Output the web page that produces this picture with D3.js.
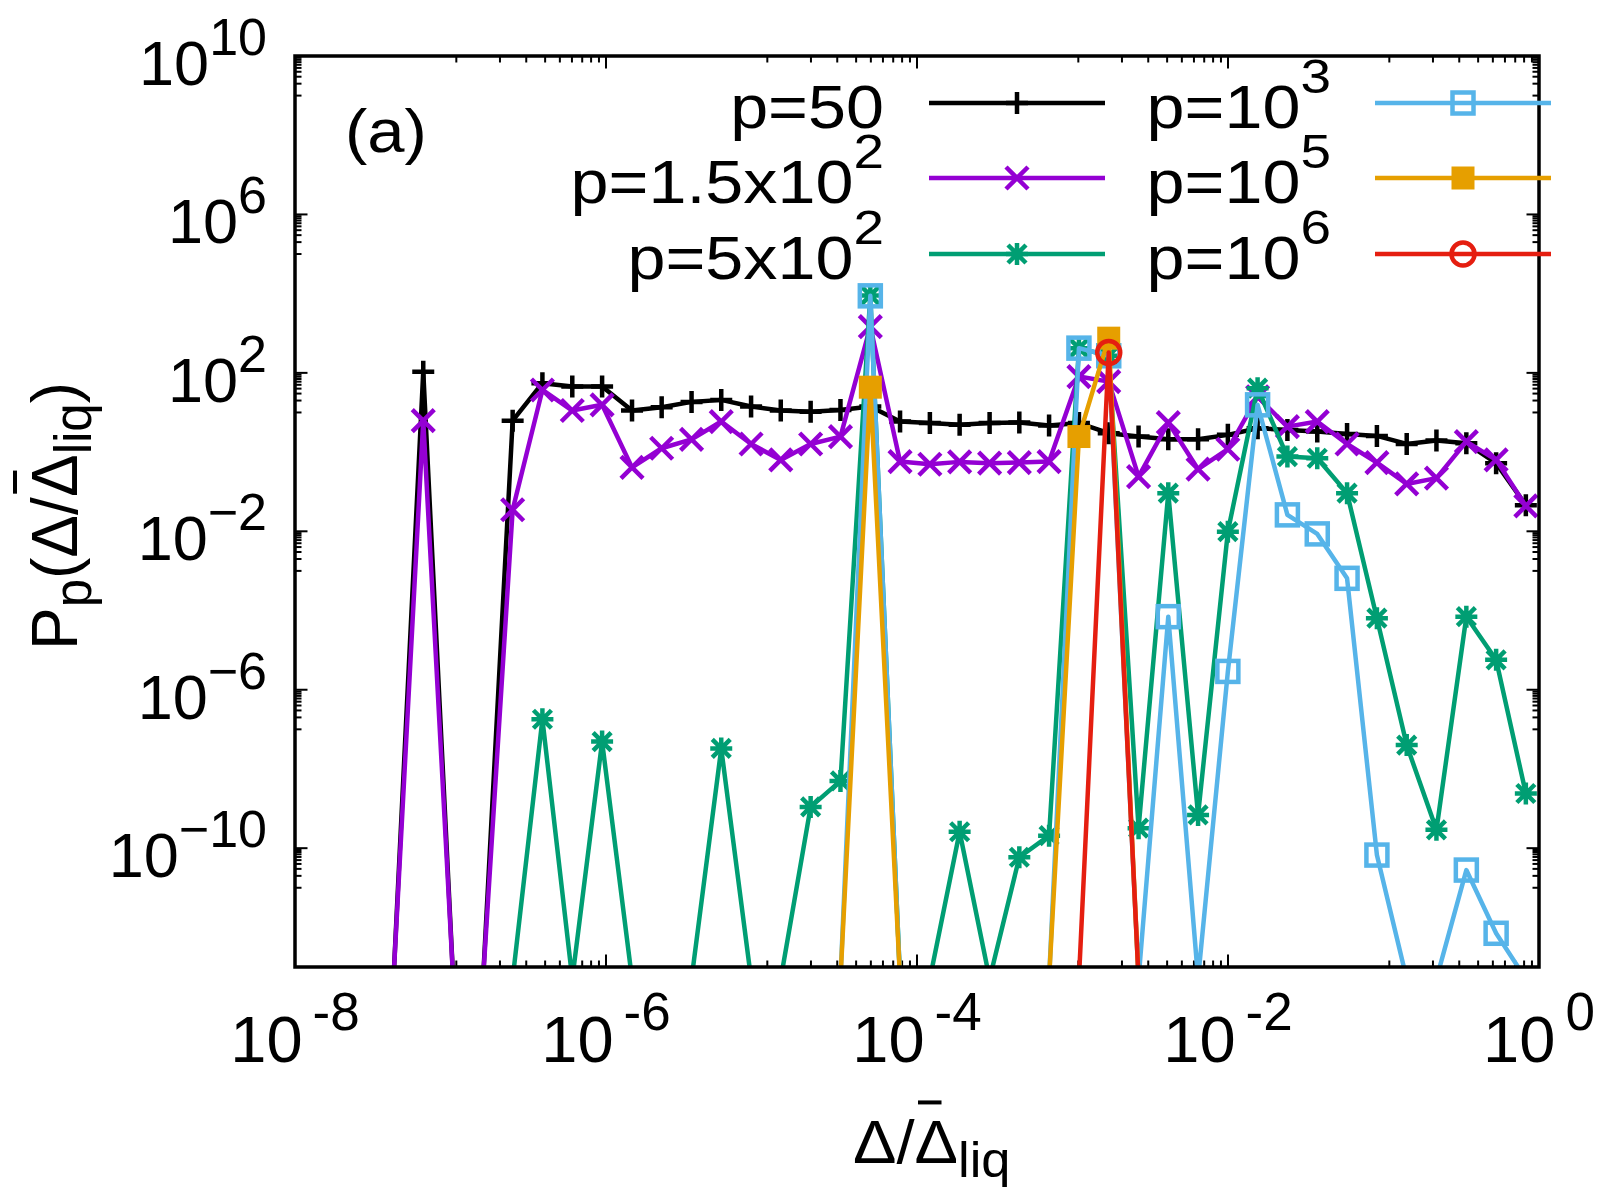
<!DOCTYPE html>
<html>
<head>
<meta charset="utf-8">
<script src="https://cdn.jsdelivr.net/npm/d3@7"></script>
<style>
  body { margin: 0; background: #fff; }
  svg { display: block; background: #fff; }
  text { font-family: "Liberation Sans", Arial, Helvetica, sans-serif; fill: #000; }
</style>
</head>
<body>
<svg id="chart"></svg>
<script>
// bin centres of Δ/Δliq, log spaced
const bins = [4.30e-8, 6.68e-8, 1.04e-7, 1.62e-7, 2.51e-7, 3.90e-7, 6.07e-7, 9.44e-7,
  1.47e-6, 2.28e-6, 3.55e-6, 5.51e-6, 8.57e-6, 1.33e-5, 2.07e-5, 3.22e-5, 5.01e-5,
  7.78e-5, 1.21e-4, 1.88e-4, 2.93e-4, 4.55e-4, 7.07e-4, 1.10e-3, 1.71e-3, 2.66e-3,
  4.13e-3, 6.42e-3, 9.98e-3, 1.55e-2, 2.41e-2, 3.75e-2, 5.83e-2, 9.07e-2, 0.141,
  0.219, 0.341, 0.530, 0.823];

// empty bins sit just below the y range
const E = 5e-14;

const pp50 = [E, 107, E, E, 6.2, 55, 45, 45, 11.2, 13.6, 18.5, 20.8, 14.1, 11.2, 10.5,
  11.6, 14.1, 5.9, 5.4, 4.9, 5.4, 5.6, 4.7, 5.4, 3.0, 2.46, 2.12, 2.12, 2.72, 4.0, 3.6,
  3.3, 2.88, 2.56, 1.61, 1.95, 1.68, 0.525, 0.0456];
const pp150 = [E, 6.2, E, E, 0.035, 37, 11.2, 15.6, 0.41, 1.25, 2.1, 5.9, 1.6, 0.635,
  1.6, 2.46, 1476, 0.575, 0.494, 0.566, 0.525, 0.543, 0.575, 80.7, 60, 0.24, 5.56, 0.37,
  1.18, 25, 4.4, 5.9, 1.6, 0.543, 0.157, 0.22, 1.84, 0.635, 0.0438];
const pp500 = [E, E, E, E, E, 1.8e-7, E, 4.9e-8, E, E, E, 3.3e-8, E, E, 1.1e-9, 5.0e-9,
  9000, E, E, 2.6e-10, E, 5.9e-11, 2.07e-10, 420, 270, 3.2e-10, 0.092, 6.9e-10, 9.8e-3,
  41, 0.77, 0.70, 0.092, 6.4e-5, 4.0e-8, 2.9e-10, 7.0e-5, 5.7e-6, 2.4e-9];
const pp1e3 = [E, E, E, E, E, E, E, E, E, E, E, E, E, E, E, E, 8800, E, E, E, E, E, E,
  421, 270, E, 7.0e-5, E, 2.9e-6, 15.6, 0.026, 8.6e-3, 6.5e-4, 6.7e-11, E, E, 2.8e-11,
  7.1e-13, E];
const pp1e5 = [E, E, E, E, E, E, E, E, E, E, E, E, E, E, E, E, 43.5, E, E, E, E, E, E,
  2.47, 752, E, E, E, E, E, E, E, E, E, E, E, E, E, E];
const pp1e6 = [E, E, E, E, E, E, E, E, E, E, E, E, E, E, E, E, E, E, E, E, E, E, E,
  E, 326, E, E, E, E, E, E, E, E, E, E, E, E, E, E];

const xTicks = [1e-8, 1e-6, 1e-4, 1e-2, 1];
const xTickLabels = [["10", "-8"], ["10", "-6"], ["10", "-4"], ["10", "-2"], ["10", "0"]];
const yTicks = [1e10, 1e6, 1e2, 1e-2, 1e-6, 1e-10];
const yTickLabels = [["10", "10"], ["10", "6"], ["10", "2"], ["10", "\u22122"], ["10", "\u22126"], ["10", "\u221210"]];

const series = [
  { name: ["p=50", ""], values: pp50, color: "#000000", marker: "plus" },
  { name: ["p=1.5x10", "2"], values: pp150, color: "#9400d3", marker: "cross" },
  { name: ["p=5x10", "2"], values: pp500, color: "#009e73", marker: "star" },
  { name: ["p=10", "3"], values: pp1e3, color: "#56b4e9", marker: "box" },
  { name: ["p=10", "5"], values: pp1e5, color: "#e69f00", marker: "boxfill" },
  { name: ["p=10", "6"], values: pp1e6, color: "#e51e10", marker: "circle" }
];

const W = 1600, H = 1195;
const margin = { top: 56, right: 61, bottom: 228, left: 295 };
const width = W - margin.left - margin.right;
const height = H - margin.top - margin.bottom;

const svg = d3.select("#chart").attr("width", W).attr("height", H);
const g = svg.append("g").attr("transform", `translate(${margin.left},${margin.top})`);

const x = d3.scaleLog().domain([1e-8, 1]).range([0, width]);
const y = d3.scaleLog().domain([1e-13, 1e10]).range([height, 0]);

g.append("clipPath").attr("id", "plot-area")
  .append("rect").attr("width", width).attr("height", height);

// text with a raised/lowered part, gnuplot enhanced style
function rich(sel, parts, size, small, shiftUp, gap) {
  let cur = 0;
  parts.forEach(([str, kind]) => {
    if (!str) return;
    const target = kind === "sup" ? -shiftUp : kind === "sub" ? shiftUp : 0;
    sel.append("tspan")
      .attr("dy", target - cur)
      .attr("dx", kind === "sup" && gap ? gap : 0)
      .style("font-size", (kind ? small : size) + "px")
      .text(str);
    cur = target;
  });
}

// minor ticks, gnuplot style: linear steps between the major ticks
function minors(majors, lo, hi) {
  const out = [];
  const all = majors.slice().sort((a, b) => a - b);
  const step = all[1] / all[0];
  const ext = [all[0] / step, ...all, all[all.length - 1] * step];
  for (let i = 0; i < ext.length - 1; i++) {
    const a = ext[i], b = ext[i + 1];
    for (let k = 1; k < 10; k++) {
      const v = a + k * (b - a) / 10;
      if (v > lo && v < hi) out.push(v);
    }
  }
  return out;
}

const xMinor = minors(xTicks, 1e-8, 1);
const yMinor = minors(yTicks, 1e-13, 1e10);
const majorLen = 12.5, minorLen = 6.5;

const axes = g.append("g").attr("stroke", "#000").attr("stroke-width", 2);
[[xTicks, majorLen], [xMinor, minorLen]].forEach(([vals, len]) => {
  axes.selectAll(null).data(vals).enter().append("line")
    .attr("x1", d => x(d)).attr("x2", d => x(d))
    .attr("y1", height).attr("y2", height - len);
  axes.selectAll(null).data(vals).enter().append("line")
    .attr("x1", d => x(d)).attr("x2", d => x(d))
    .attr("y1", 0).attr("y2", len);
});
[[yTicks, majorLen], [yMinor, minorLen]].forEach(([vals, len]) => {
  axes.selectAll(null).data(vals).enter().append("line")
    .attr("y1", d => y(d)).attr("y2", d => y(d))
    .attr("x1", 0).attr("x2", len);
  axes.selectAll(null).data(vals).enter().append("line")
    .attr("y1", d => y(d)).attr("y2", d => y(d))
    .attr("x1", width).attr("x2", width - len);
});

// tick labels
xTicks.forEach((t, i) => {
  const txt = g.append("text")
    .attr("x", x(t)).attr("y", height + 95)
    .attr("text-anchor", "middle");
  rich(txt, [[xTickLabels[i][0]], [xTickLabels[i][1], "sup"]], 65, 53, 32, 10);
});
yTicks.forEach((t, i) => {
  const txt = g.append("text")
    .attr("x", -28).attr("y", y(t) + 29)
    .attr("text-anchor", "end");
  rich(txt, [[yTickLabels[i][0]], [yTickLabels[i][1], "sup"]], 63, 52, 30);
});

// marker shapes
function marker(sel, type, color) {
  const st = { stroke: color, "stroke-width": 4.5, fill: "none" };
  let m;
  if (type === "plus") {
    m = sel.append("path").attr("d", "M-11,0H11M0,-11V11");
  } else if (type === "cross") {
    m = sel.append("path").attr("d", "M-11,-11L11,11M-11,11L11,-11");
  } else if (type === "star") {
    m = sel.append("path").attr("d", "M-11,0H11M0,-11V11M-9,-9L9,9M-9,9L9,-9");
  } else if (type === "box") {
    m = sel.append("rect").attr("x", -10.5).attr("y", -10.5).attr("width", 21).attr("height", 21);
  } else if (type === "boxfill") {
    return sel.append("rect").attr("x", -11.5).attr("y", -11.5).attr("width", 23).attr("height", 23)
      .attr("fill", color);
  } else if (type === "circle") {
    m = sel.append("circle").attr("r", 11.5);
  }
  Object.entries(st).forEach(([k, v]) => m.attr(k, v));
}

const line = d3.line()
  .x((d, i) => x(bins[i]))
  .y(d => y(d));

const plot = g.append("g").attr("clip-path", "url(#plot-area)");
series.forEach(s => {
  plot.append("path")
    .datum(s.values)
    .attr("fill", "none")
    .attr("stroke", s.color)
    .attr("stroke-width", 4.5)
    .attr("stroke-linejoin", "round")
    .attr("d", line);
  s.values.forEach((v, i) => {
    if (v < 1e-13) return;
    const m = plot.append("g").attr("transform", `translate(${x(bins[i])},${y(v)})`);
    marker(m, s.marker, s.color);
  });
});

// border on top
g.append("rect")
  .attr("width", width).attr("height", height)
  .attr("fill", "none").attr("stroke", "#000").attr("stroke-width", 3.5);

// legend: two columns of three
const legCols = [
  { textX: 884, x1: 929, x2: 1105, mx: 1017 },
  { textX: 1331, x1: 1375, x2: 1551, mx: 1463 }
];
const legRows = [103, 178, 254];
series.forEach((s, i) => {
  const c = legCols[Math.floor(i / 3)];
  const ry = legRows[i % 3];
  const txt = svg.append("text")
    .attr("transform", `translate(${c.textX},${ry + 25}) scale(1.12,1)`)
    .attr("text-anchor", "end");
  rich(txt, [[s.name[0]], [s.name[1], "sup"]], 61, 49, 35);
  svg.append("line")
    .attr("x1", c.x1).attr("x2", c.x2).attr("y1", ry).attr("y2", ry)
    .attr("stroke", s.color).attr("stroke-width", 4.5);
  const m = svg.append("g").attr("transform", `translate(${c.mx},${ry})`);
  marker(m, s.marker, s.color);
});

// panel label
svg.append("text")
  .attr("transform", "translate(345,152) scale(1.08,1)")
  .style("font-size", "62px").text("(a)");

// overline for the second Δ of a title
function barOver(textSel, holder, index) {
  const box = textSel.node().getExtentOfChar(index);
  holder.append("line")
    .attr("x1", box.x + box.width * 0.08).attr("x2", box.x + box.width * 0.62)
    .attr("y1", box.y - 4).attr("y2", box.y - 4)
    .attr("stroke", "#000").attr("stroke-width", 4);
}

// x axis title
const xt = svg.append("g").attr("transform", "translate(853,1163) scale(1.05,1)");
const xtText = xt.append("text");
rich(xtText, [["\u0394/\u0394"], ["liq", "sub"]], 62, 50, 14);
barOver(xtText, xt, 2);

// y axis title
const yt = svg.append("g").attr("transform", "translate(77,650) rotate(-90)");
const ytText = yt.append("text");
rich(ytText, [["P"], ["p", "sub"], ["(\u0394/\u0394", ""], ["liq", "sub"], [")", ""]], 64, 51, 14);
barOver(ytText, yt, 5);
</script>
</body>
</html>
